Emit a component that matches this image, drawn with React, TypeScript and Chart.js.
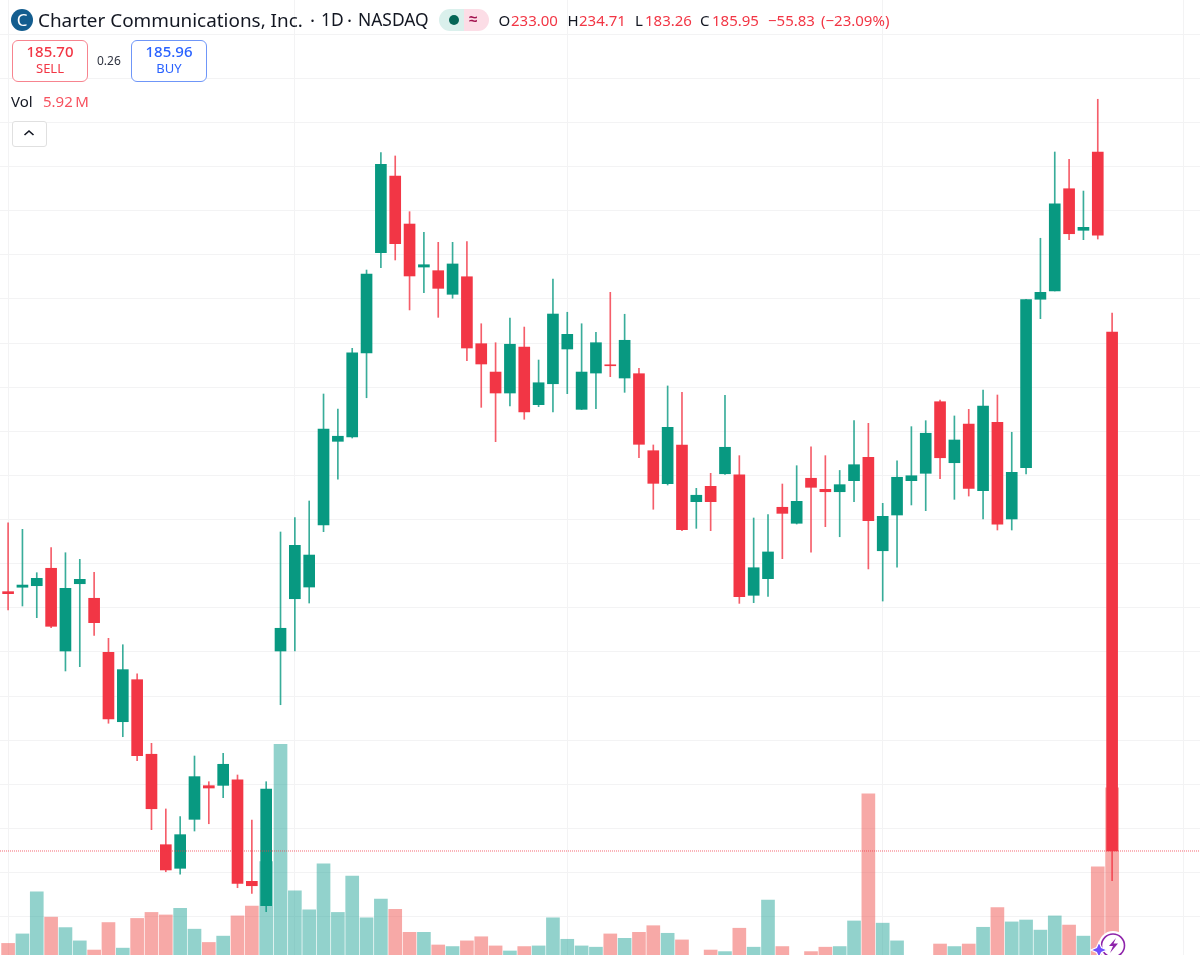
import React, { useEffect, useRef } from "react";
import { Chart, registerables } from "chart.js";

Chart.register(...registerables);

const opens = [209.46,209.86,210.00,211.58,204.08,210.18,208.86,203.96,197.67,201.48,194.72,186.52,184.38,188.82,191.87,191.90,192.39,183.20,180.99,204.08,208.82,209.88,215.50,223.09,223.48,231.10,240.19,247.14,242.79,238.89,238.56,236.42,238.01,231.94,229.37,227.47,231.64,226.41,228.31,231.46,225.99,229.28,229.98,228.83,229.22,222.24,219.25,222.76,217.62,219.01,220.15,220.06,209.13,210.64,217.11,215.66,219.74,218.74,218.52,219.52,221.64,213.17,216.41,219.52,220.19,226.68,221.15,224.66,218.61,224.81,216.05,220.70,235.97,236.72,245.99,242.22,249.32,233.00];
const highs = [215.71,215.11,211.18,213.45,212.99,212.39,211.22,205.23,204.65,202.00,195.71,189.76,189.06,194.56,192.23,194.81,192.84,188.76,192.23,214.87,216.17,217.68,227.38,226.02,231.52,238.62,249.26,248.96,243.91,242.04,241.13,241.13,241.19,233.75,232.03,234.27,233.45,230.46,237.81,234.79,233.75,232.97,236.60,234.61,229.71,222.76,228.11,227.53,218.83,220.19,227.26,221.79,216.14,216.44,219.22,220.88,222.60,221.79,220.45,224.96,224.72,217.47,221.33,224.42,224.96,226.84,225.39,225.99,227.74,227.29,223.91,235.97,241.50,249.32,248.66,245.78,254.10,234.71];
const lows = [207.80,208.16,207.10,206.19,202.27,202.66,205.50,197.53,196.31,194.13,187.88,184.07,183.84,187.76,188.42,190.78,182.62,182.11,180.45,199.21,204.08,208.43,214.90,219.65,223.39,227.04,238.83,239.53,235.00,236.56,234.33,236.06,230.40,226.17,223.06,226.29,225.09,226.23,225.75,227.41,225.96,226.05,228.95,227.53,221.60,216.93,219.13,214.99,215.20,214.99,220.10,208.40,208.46,209.04,212.45,215.59,213.03,215.35,214.44,217.62,211.52,208.61,211.67,217.32,216.80,219.70,217.83,218.13,216.05,215.05,215.05,220.13,234.21,236.72,241.37,241.37,241.43,183.26];
const closes = [209.28,210.06,210.67,206.32,209.76,210.58,206.65,197.92,202.39,194.59,189.78,184.23,187.43,192.69,191.66,193.81,183.02,182.80,191.57,206.14,213.66,212.78,224.21,223.55,231.12,238.26,248.20,241.01,238.08,239.10,236.96,239.17,231.55,230.10,227.47,231.89,225.75,228.40,234.63,232.79,229.37,232.03,229.94,232.25,222.82,219.28,224.36,215.08,218.20,217.62,222.55,209.00,211.63,213.06,216.56,217.65,218.92,218.52,219.16,220.97,215.89,216.29,219.83,219.97,223.82,221.60,223.21,218.83,226.29,215.59,220.28,235.93,236.60,244.63,241.91,242.49,241.77,185.95];
const volumes = [1.00,1.30,2.63,1.83,1.50,1.08,0.79,1.66,0.85,1.79,1.98,1.90,2.11,1.45,1.03,1.23,1.87,2.18,3.59,7.30,2.66,2.06,3.52,1.98,3.13,1.81,2.40,2.08,1.35,1.35,0.95,0.90,1.08,1.21,0.92,0.76,0.90,0.92,1.81,1.13,0.92,0.88,1.30,1.16,1.35,1.56,1.32,1.11,0.55,0.79,0.74,1.48,0.88,2.37,0.90,0.55,0.74,0.88,0.90,1.71,5.73,1.64,1.08,0.50,0.58,0.98,0.90,0.98,1.51,2.13,1.68,1.74,1.42,1.87,1.58,1.23,3.42,5.92];
const volumeUp = [0,1,1,0,1,1,0,0,1,0,0,0,1,1,0,1,0,0,1,1,1,1,1,1,1,1,1,0,0,1,0,1,0,0,0,1,0,1,1,1,1,1,0,1,0,0,1,0,1,0,1,0,1,1,0,1,0,0,1,1,0,1,1,1,1,0,1,0,1,0,1,1,1,1,0,1,0,0];
const priceTicks = [180,184,188,192,196,200,204,208,212,216,220,224,228,232,236,240,244,248,252,256,260];
const monthTicks = [0,20,39,61,82];
const lastPrice = 185.95;

const UP = "#089981";
const DOWN = "#f23645";
const UP_VOL = "rgba(38,166,154,0.5)";
const DOWN_VOL = "rgba(239,83,80,0.5)";
const GRID = "#f3f3f4";
const FONT = '"Noto Sans", sans-serif';

const X_MIN = -0.565;
const X_MAX = 83.13;
const isUp = (i: number) => closes[i] >= opens[i];

function Txt({ x, y, size, color, weight, children }: any) {
  return (
    <span style={{ position: "absolute", left: x, top: y, fontSize: size, color, fontWeight: weight || 400, lineHeight: 1, whiteSpace: "nowrap" }}>
      {children}
    </span>
  );
}

export default function App() {
  const ref = useRef<HTMLCanvasElement | null>(null);
  useEffect(() => {
    document.body.style.margin = "0";
    document.body.style.overflow = "hidden";
    const idx = opens.map((_, i) => i);
    const chart = new Chart(ref.current as HTMLCanvasElement, {
      type: "bar",
      data: {
        datasets: [
          {
            label: "Price line",
            type: "line",
            data: [{ x: X_MIN, y: lastPrice }, { x: X_MAX, y: lastPrice }],
            borderColor: "rgba(242,54,69,0.75)",
            borderWidth: 1,
            borderDash: [1, 1],
            pointRadius: 0,
            yAxisID: "y",
            order: 1,
          },
          {
            label: "Body",
            data: idx.map((i) => ({ x: i, y: [opens[i], closes[i]] })),
            backgroundColor: idx.map((i) => (isUp(i) ? UP : DOWN)),
            barThickness: 11,
            grouped: false,
            minBarLength: 1,
            yAxisID: "y",
            order: 2,
          },
          {
            label: "Wick",
            data: idx.map((i) => ({ x: i, y: [lows[i], highs[i]] })),
            backgroundColor: idx.map((i) => (isUp(i) ? "rgba(8,153,129,0.8)" : "rgba(242,54,69,0.8)")),
            barThickness: 1,
            grouped: false,
            yAxisID: "y",
            order: 3,
          },
          {
            label: "Vol",
            data: idx.map((i) => ({ x: i, y: volumes[i] })),
            backgroundColor: idx.map((i) => (volumeUp[i] ? UP_VOL : DOWN_VOL)),
            barThickness: 13,
            grouped: false,
            yAxisID: "v",
            order: 4,
          },
        ] as any,
      },
      options: {
        responsive: false,
        animation: false,
        maintainAspectRatio: false,
        layout: { padding: 0 },
        plugins: { legend: { display: false }, tooltip: { enabled: false } },
        events: [],
        scales: {
          x: {
            type: "linear",
            offset: false,
            min: X_MIN,
            max: X_MAX,
            afterBuildTicks: (s: any) => {
              s.ticks = monthTicks.map((value) => ({ value }));
            },
            ticks: { display: false },
            border: { display: false },
            grid: { color: GRID, drawTicks: false, lineWidth: 1, offset: false },
          },
          y: {
            type: "linear",
            min: 176.52,
            max: 263.1,
            afterBuildTicks: (s: any) => {
              s.ticks = priceTicks.map((value) => ({ value }));
            },
            ticks: { display: false },
            border: { display: false },
            grid: { color: GRID, drawTicks: false, lineWidth: 1 },
          },
          v: {
            type: "linear",
            display: false,
            min: 0.633,
            max: 30.85,
          },
        },
      } as any,
    });
    return () => chart.destroy();
  }, []);

  const R = "#f23645";
  const K = "#131722";
  return (
    <div style={{ position: "fixed", left: 0, top: 0, width: 1200, height: 955, background: "#fff", overflow: "hidden", fontFamily: FONT }}>
      <canvas ref={ref} width={1200} height={955} style={{ position: "absolute", left: 0, top: 0, display: "block" }} />

      <div style={{ position: "absolute", left: 11, top: 9, width: 22, height: 22, borderRadius: 11, background: "#135d8f" }}>
        <span style={{ position: "absolute", left: 0, width: 22, top: 1, textAlign: "center", color: "#fff", fontSize: 17, lineHeight: "20px" }}>C</span>
      </div>
      <Txt x={38} y={11} size={18.9} color={K}>Charter Communications, Inc.</Txt>
      <Txt x={310} y={11} size={18.9} color={K}>·</Txt>
      <Txt x={321} y={11} size={17.4} color={K}>1D</Txt>
      <Txt x={347} y={11} size={18.9} color={K}>·</Txt>
      <Txt x={358} y={11} size={17.4} color={K}>NASDAQ</Txt>

      <div style={{ position: "absolute", left: 439, top: 9, width: 25, height: 22, background: "#daf0ec", borderRadius: "11px 0 0 11px" }} />
      <div style={{ position: "absolute", left: 464, top: 9, width: 25, height: 22, background: "#fcdde6", borderRadius: "0 11px 11px 0" }} />
      <div style={{ position: "absolute", left: 449, top: 15, width: 10, height: 10, borderRadius: 5, background: "#056656" }} />
      <Txt x={469} y={11} size={15} color="#a3134f" weight={700}>≈</Txt>

      <Txt x={498.5} y={13} size={15} color={K}>O</Txt>
      <Txt x={511} y={13} size={15} color={R}>233.00</Txt>
      <Txt x={567.5} y={13} size={15} color={K}>H</Txt>
      <Txt x={579} y={13} size={15} color={R}>234.71</Txt>
      <Txt x={635} y={13} size={15} color={K}>L</Txt>
      <Txt x={645} y={13} size={15} color={R}>183.26</Txt>
      <Txt x={700} y={13} size={15} color={K}>C</Txt>
      <Txt x={712} y={13} size={15} color={R}>185.95</Txt>
      <Txt x={768} y={13} size={15} color={R}>−55.83</Txt>
      <Txt x={821} y={13} size={15} color={R}>(−23.09%)</Txt>

      <div style={{ position: "absolute", left: 12, top: 40, width: 74, height: 40, border: "1px solid #f7848f", borderRadius: 6, background: "#fff" }} />
      <div style={{ position: "absolute", left: 12, top: 44, width: 76, textAlign: "center", fontSize: 15, fontWeight: 500, lineHeight: 1, color: R }}>185.70</div>
      <div style={{ position: "absolute", left: 12, top: 62, width: 76, textAlign: "center", fontSize: 13, lineHeight: 1, color: R }}>SELL</div>
      <Txt x={97} y={55} size={12} color="#2f3340">0.26</Txt>
      <div style={{ position: "absolute", left: 131, top: 40, width: 74, height: 40, border: "1px solid #6f96f8", borderRadius: 6, background: "#fff" }} />
      <div style={{ position: "absolute", left: 131, top: 44, width: 76, textAlign: "center", fontSize: 15, fontWeight: 500, lineHeight: 1, color: "#2962ff" }}>185.96</div>
      <div style={{ position: "absolute", left: 131, top: 62, width: 76, textAlign: "center", fontSize: 13, lineHeight: 1, color: "#2962ff" }}>BUY</div>

      <Txt x={11} y={94} size={15} color={K}>Vol</Txt>
      <Txt x={43} y={94} size={15} color="#f7525f">5.92{"\u2009"}M</Txt>

      <div style={{ position: "absolute", left: 12, top: 121, width: 33, height: 24, border: "1px solid #e0e0e0", borderRadius: 3, background: "#fff" }} />
      <svg style={{ position: "absolute", left: 23, top: 129 }} width="12" height="8" viewBox="0 0 12 8">
        <path d="M1.5 6 L6 2 L10.5 6" fill="none" stroke={K} strokeWidth="1.6" />
      </svg>

      <svg style={{ position: "absolute", left: 1090, top: 930 }} width="40" height="25" viewBox="0 0 40 25">
        <circle cx="23" cy="15.5" r="12.5" fill="#fff" stroke="#fff" strokeWidth="4" />
        <circle cx="23" cy="15.5" r="11.5" fill="#fff" stroke="#8e24aa" strokeWidth="1.6" />
        <path d="M26 8 L19 16 L23 16 L20 23 L28 13.5 L23.5 13.5 Z" fill="#8e24aa" />
        <path d="M9 12 L11.5 17.5 L17 20 L11.5 22.5 L9 28 L6.5 22.5 L1 20 L6.5 17.5 Z" fill="#6f4dff" stroke="#fff" strokeWidth="1.2" />
      </svg>
    </div>
  );
}
